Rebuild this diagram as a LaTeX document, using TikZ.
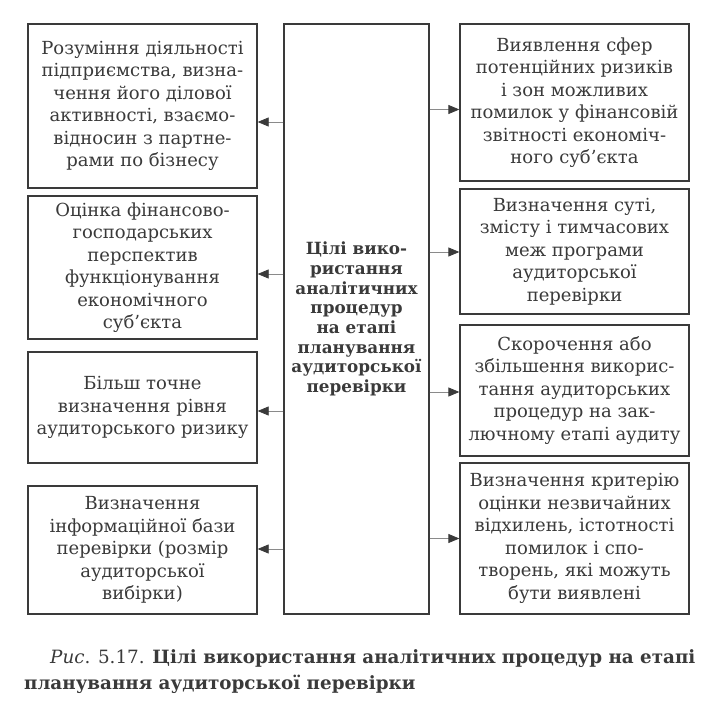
\documentclass[tikz,border=0pt]{standalone}
\usepackage{fontspec}
\setmainfont{DejaVu Serif}
\usetikzlibrary{arrows.meta}
\definecolor{ink}{HTML}{3A3A3A}
\definecolor{conn}{HTML}{8A8A8A}
\tikzset{
  box/.style={draw=ink, line width=1.3pt, text=ink, align=center, inner sep=0pt,
    font=\fontsize{18}{22.5}\selectfont},
  lbox/.style={box, minimum width=229pt},
  cbox/.style={box, minimum width=145pt, font=\bfseries\fontsize{16.8}{19.7}\selectfont},
  arr/.style={draw=conn, line width=0.8pt, -{Triangle[length=11pt,width=9pt,color=ink]}},
  captext/.style={anchor=base west, text=ink, inner sep=0pt, font=\fontsize{18.3}{22}\selectfont}
}
\begin{document}
\begin{tikzpicture}[x=1pt,y=-1pt]
\useasboundingbox (0,0) rectangle (719,714);
\fill[white] (0,0) rectangle (719,714);
% left boxes
\node[lbox, minimum height=164pt] (L1) at (142.5,106) {Розуміння діяльності\\підприємства, визна-\\чення його ділової\\активності, взаємо-\\відносин з партне-\\рами по бізнесу};
\node[lbox, minimum height=143pt] (L2) at (142.5,267.5) {Оцінка фінансово-\\господарських\\перспектив\\функціонування\\економічного\\суб’єкта};
\node[lbox, minimum height=111pt] (L3) at (142.5,407.5) {Більш точне\\визначення рівня\\аудиторського ризику};
\node[lbox, minimum height=128pt] (L4) at (142.5,550) {Визначення\\інформаційної бази\\перевірки (розмір\\аудиторської\\вибірки)};
% centre
\node[cbox, minimum height=590pt] (C) at (356.5,319) {Цілі вико-\\ристання\\аналітичних\\процедур\\на етапі\\планування\\аудиторської\\перевірки};
% right boxes
\node[lbox, minimum height=157pt] (R1) at (574.5,102.5) {Виявлення сфер\\потенційних ризиків\\і зон можливих\\помилок у фінансовій\\звітності економіч-\\ного суб’єкта};
\node[lbox, minimum height=125pt] (R2) at (574.5,251.5) {Визначення суті,\\змісту і тимчасових\\меж програми\\аудиторської\\перевірки};
\node[lbox, minimum height=131pt] (R3) at (574.5,390.5) {Скорочення або\\збільшення викорис-\\тання аудиторських\\процедур на зак-\\лючному етапі аудиту};
\node[lbox, minimum height=151pt] (R4) at (574.5,538.5) {Визначення критерію\\оцінки незвичайних\\відхилень, істотності\\помилок і спо-\\творень, які можуть\\бути виявлені};
% connector ends
\coordinate (a1) at ([yshift=-16pt]L1.east);
\coordinate (a2) at ([yshift=-6.5pt]L2.east);
\coordinate (a3) at ([yshift=-3.5pt]L3.east);
\coordinate (a4) at ([yshift=1pt]L4.east);
\coordinate (b1) at ([yshift=-7pt]R1.west);
\coordinate (b2) at ([yshift=-0.5pt]R2.west);
\coordinate (b3) at ([yshift=-1.5pt]R3.west);
\coordinate (b4) at (R4.west);
\foreach \p in {a1,a2,a3,a4}{\draw[arr] (C.west |- \p) -- (\p);}
\foreach \p in {b1,b2,b3,b4}{\draw[arr] (C.east |- \p) -- (\p);}
% caption
\node[captext] (cap1) at (50,663) {\textit{Рис}. 5.17. \textbf{Цілі використання аналітичних процедур на етапі}};
\node[captext] (cap2) at (24,689) {\textbf{планування аудиторської перевірки}};
\end{tikzpicture}
\end{document}
